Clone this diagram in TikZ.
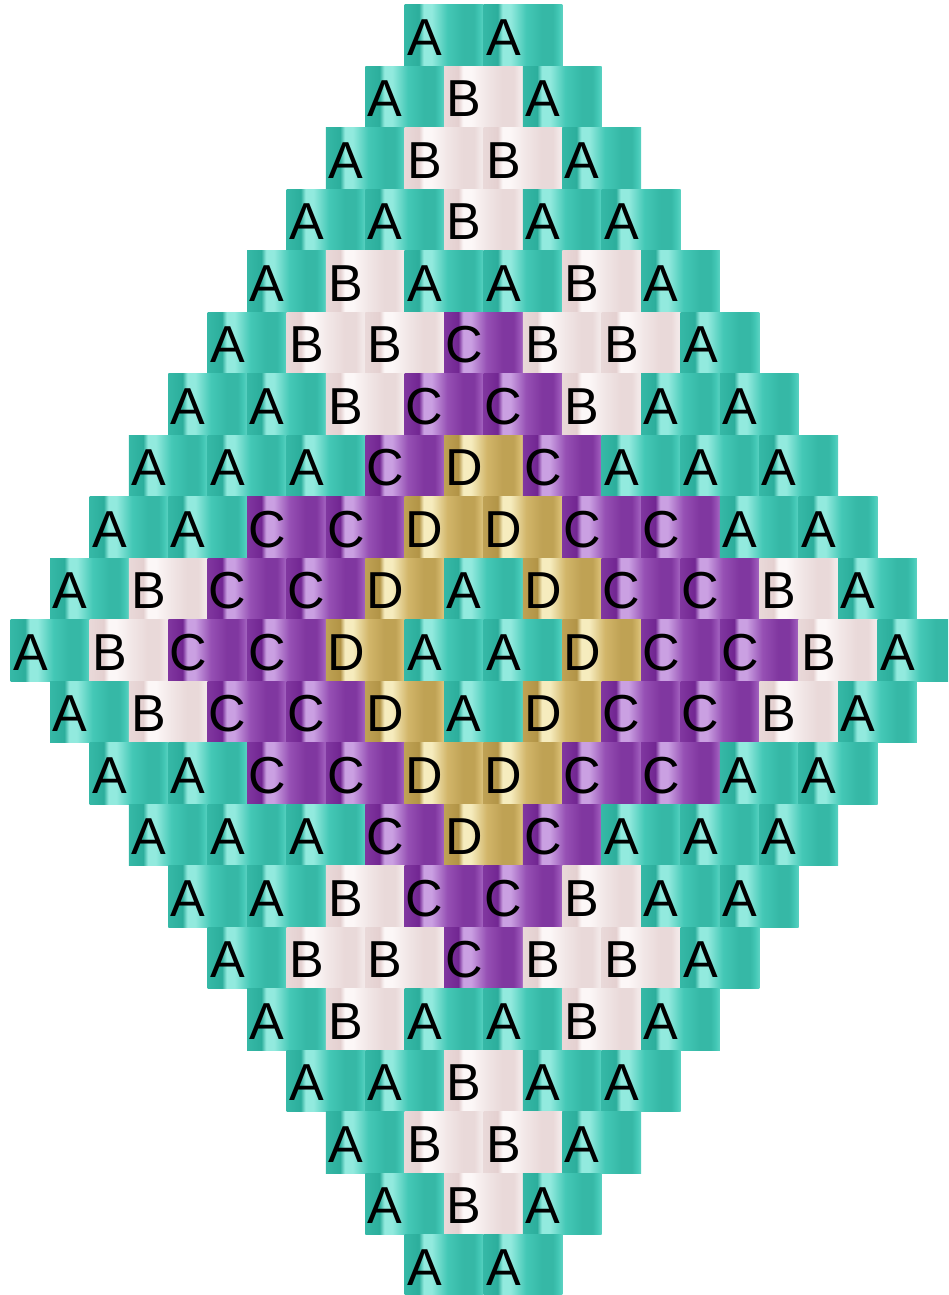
\documentclass[tikz,border=0pt]{standalone}
\usepackage{fontspec}
\setmainfont{Liberation Sans}
\definecolor{Ad}{RGB}{44,174,156}
\definecolor{Am}{RGB}{68,200,182}
\definecolor{Al}{RGB}{146,234,222}
\definecolor{Bd}{RGB}{228,208,208}
\definecolor{Bm}{RGB}{241,230,230}
\definecolor{Bl}{RGB}{252,247,247}
\definecolor{Cd}{RGB}{114,38,146}
\definecolor{Cm}{RGB}{150,80,180}
\definecolor{Cl}{RGB}{202,160,226}
\definecolor{Dd}{RGB}{178,148,70}
\definecolor{Dm}{RGB}{210,182,106}
\definecolor{Dl}{RGB}{246,236,190}
\newcommand\mkbeadshading[1]{%
  \pgfdeclarehorizontalshading{bead#1}{100bp}{%
    color(0bp)=(#1d!60!#1m); color(25bp)=(#1d!60!#1m); color(34bp)=(#1d);
    color(37bp)=(#1l); color(42bp)=(#1l); color(52bp)=(#1m);
    color(62bp)=(#1d!60!#1m); color(69bp)=(#1d!60!#1m); color(72.5bp)=(#1m);
    color(75bp)=(#1m!70!#1l); color(100bp)=(#1m!70!#1l)}}
\mkbeadshading{A}\mkbeadshading{B}\mkbeadshading{C}\mkbeadshading{D}
\tikzset{
  bead/.style={rectangle, shade, minimum width=78.8pt, minimum height=61.5pt,
    inner sep=0pt, outer sep=0pt, draw=none, anchor=north west},
  letter/.style={inner sep=0pt, anchor=base, text=black,
    font=\fontsize{52}{52}\selectfont}
}
\begin{document}
\begin{tikzpicture}[x=1pt,y=1pt]
\useasboundingbox (0,0) rectangle (948,1295);
\clip (0,0) rectangle (948,1295);
\foreach \row [count=\i] in {
  {A,A},
  {A,B,A},
  {A,B,B,A},
  {A,A,B,A,A},
  {A,B,A,A,B,A},
  {A,B,B,C,B,B,A},
  {A,A,B,C,C,B,A,A},
  {A,A,A,C,D,C,A,A,A},
  {A,A,C,C,D,D,C,C,A,A},
  {A,B,C,C,D,A,D,C,C,B,A},
  {A,B,C,C,D,A,A,D,C,C,B,A},
  {A,B,C,C,D,A,D,C,C,B,A},
  {A,A,C,C,D,D,C,C,A,A},
  {A,A,A,C,D,C,A,A,A},
  {A,A,B,C,C,B,A,A},
  {A,B,B,C,B,B,A},
  {A,B,A,A,B,A},
  {A,A,B,A,A},
  {A,B,B,A},
  {A,B,A},
  {A,A}} {
  \pgfmathsetmacro\nb{12-abs(\i-11)}
  \pgfmathsetmacro\yt{1290-(\i-1)*61.5}
  \foreach \bc [count=\j] in \row {
    \pgfmathsetmacro\xl{483.5-\nb*39.4+(\j-1)*78.8}
    \node[bead, shading=bead\bc] (b\i-\j) at (\xl,\yt) {};
    \node[letter] (t\i-\j) at ([shift={(20pt,11pt)}]b\i-\j.south west) {\bc};
  }
}
\end{tikzpicture}
\end{document}
